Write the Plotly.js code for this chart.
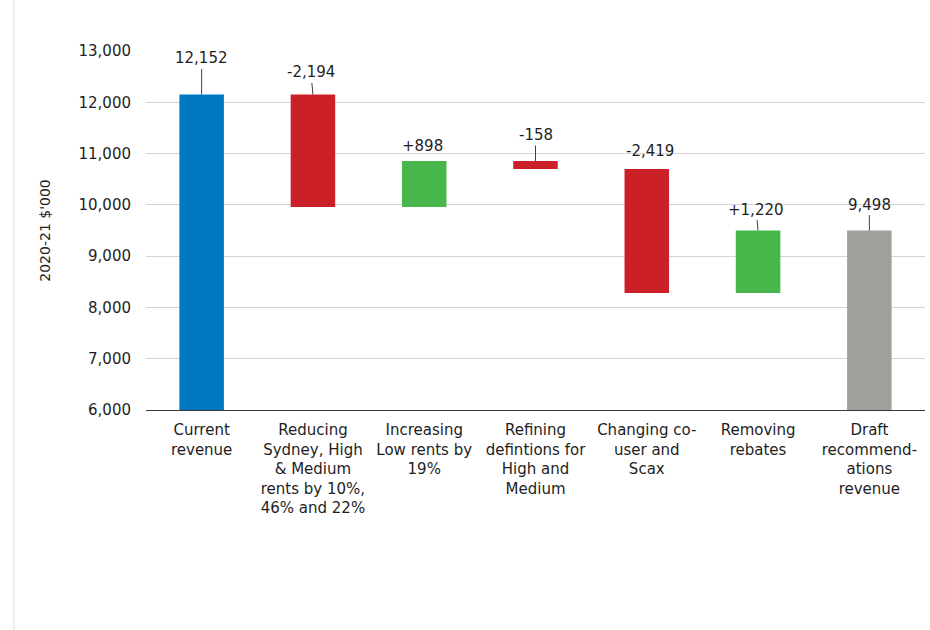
<!DOCTYPE html>
<html>
<head>
<meta charset="utf-8">
<script src="https://cdn.plot.ly/plotly-3.0.1.min.js"></script>
<style>
  html, body { margin: 0; padding: 0; background: #fff; }
  #chart { width: 930px; height: 630px; }
</style>
</head>
<body>
<div id="chart"></div>
<script>
// ---- data ----
const categories = [
  "Current<br>revenue",
  "Reducing<br>Sydney, High<br>& Medium<br>rents by 10%,<br>46% and 22%",
  "Increasing<br>Low rents by<br>19%",
  "Refining<br>defintions for<br>High and<br>Medium",
  "Changing co-<br>user and<br>Scax",
  "Removing<br>rebates",
  "Draft<br>recommend-<br>ations<br>revenue"
];
const values = [12152, -2194, 898, -158, -2419, 1220, 9498];
const measures = ["total", "relative", "relative", "relative", "relative", "relative", "total"];
const valueLabels = ["12,152", "-2,194", "+898", "-158", "-2,419", "+1,220", "9,498"];
const yTicks = [6000, 7000, 8000, 9000, 10000, 11000, 12000, 13000];

// ---- styles / positions (not data) ----
const FONT = "DejaVu Sans, Arial, sans-serif";
const barColors = ["#0077C1", "#CC2028", "#48B74B", "#CC2028", "#CC2028", "#48B74B", "#A0A09B"];
// [ax, ay, showLine] offsets of each value label from its bar top, in pixels
const labelOffsets = [[0, -36, true], [-2, -22, true], [-2, -15, false], [0, -26, true], [3, -18, false], [-2, -21, true], [0, -26, true]];

// ---- build bars from data ----
let running = 0;
const bases = [], heights = [], tops = [];
values.forEach((v, i) => {
  if (measures[i] === "total") {
    bases.push(0); heights.push(v); running = v; tops.push(v);
  } else {
    bases.push(running); heights.push(v);
    tops.push(Math.max(running, running + v));
    running += v;
  }
});

const trace = {
  type: "bar",
  x: categories,
  y: heights,
  base: bases,
  width: 0.4,
  marker: { color: barColors, line: { width: 0 } },
  hoverinfo: "skip",
  showlegend: false
};

const annotations = valueLabels.map((t, i) => {
  const o = labelOffsets[i];
  return {
    x: categories[i], y: tops[i], xref: "x", yref: "y",
    text: t,
    showarrow: true,
    arrowhead: 0,
    arrowwidth: 1,
    arrowcolor: o[2] ? "#404040" : "rgba(0,0,0,0)",
    ax: o[0], ay: o[1],
    font: { family: FONT, size: 15, color: "#1e1e1e" }
  };
});

const layout = {
  width: 930, height: 630,
  margin: { l: 146, r: 5, t: 51, b: 220 },
  paper_bgcolor: "#ffffff",
  plot_bgcolor: "#ffffff",
  font: { family: FONT, size: 15, color: "#1e1e1e" },
  xaxis: {
    type: "category",
    showgrid: false,
    showline: true, linecolor: "#3a3a3a", linewidth: 1,
    ticks: "",
    ticklabelstandoff: 6,
    tickfont: { family: FONT, size: 15, color: "#1e1e1e" },
    fixedrange: true
  },
  yaxis: {
    range: [6000, 13000],
    tickvals: yTicks,
    tickformat: ",d",
    showgrid: true, gridcolor: "#d4d4d4", gridwidth: 1,
    zeroline: false,
    showline: false,
    ticks: "",
    ticklabelstandoff: 14,
    tickfont: { family: FONT, size: 15, color: "#1e1e1e" },
    title: { text: "2020-21 $'000", font: { family: FONT, size: 14, color: "#1e1e1e" }, standoff: 24 },
    fixedrange: true
  },
  annotations: annotations,
  shapes: [{
    type: "line", xref: "paper", yref: "paper",
    x0: (14 - 146) / 779, x1: (14 - 146) / 779,
    y0: -220 / 359, y1: 1 + 51 / 359,
    line: { color: "#dcdcdc", width: 1 }
  }]
};

Plotly.newPlot("chart", [trace], layout, { displayModeBar: false, staticPlot: true });
</script>
</body>
</html>
